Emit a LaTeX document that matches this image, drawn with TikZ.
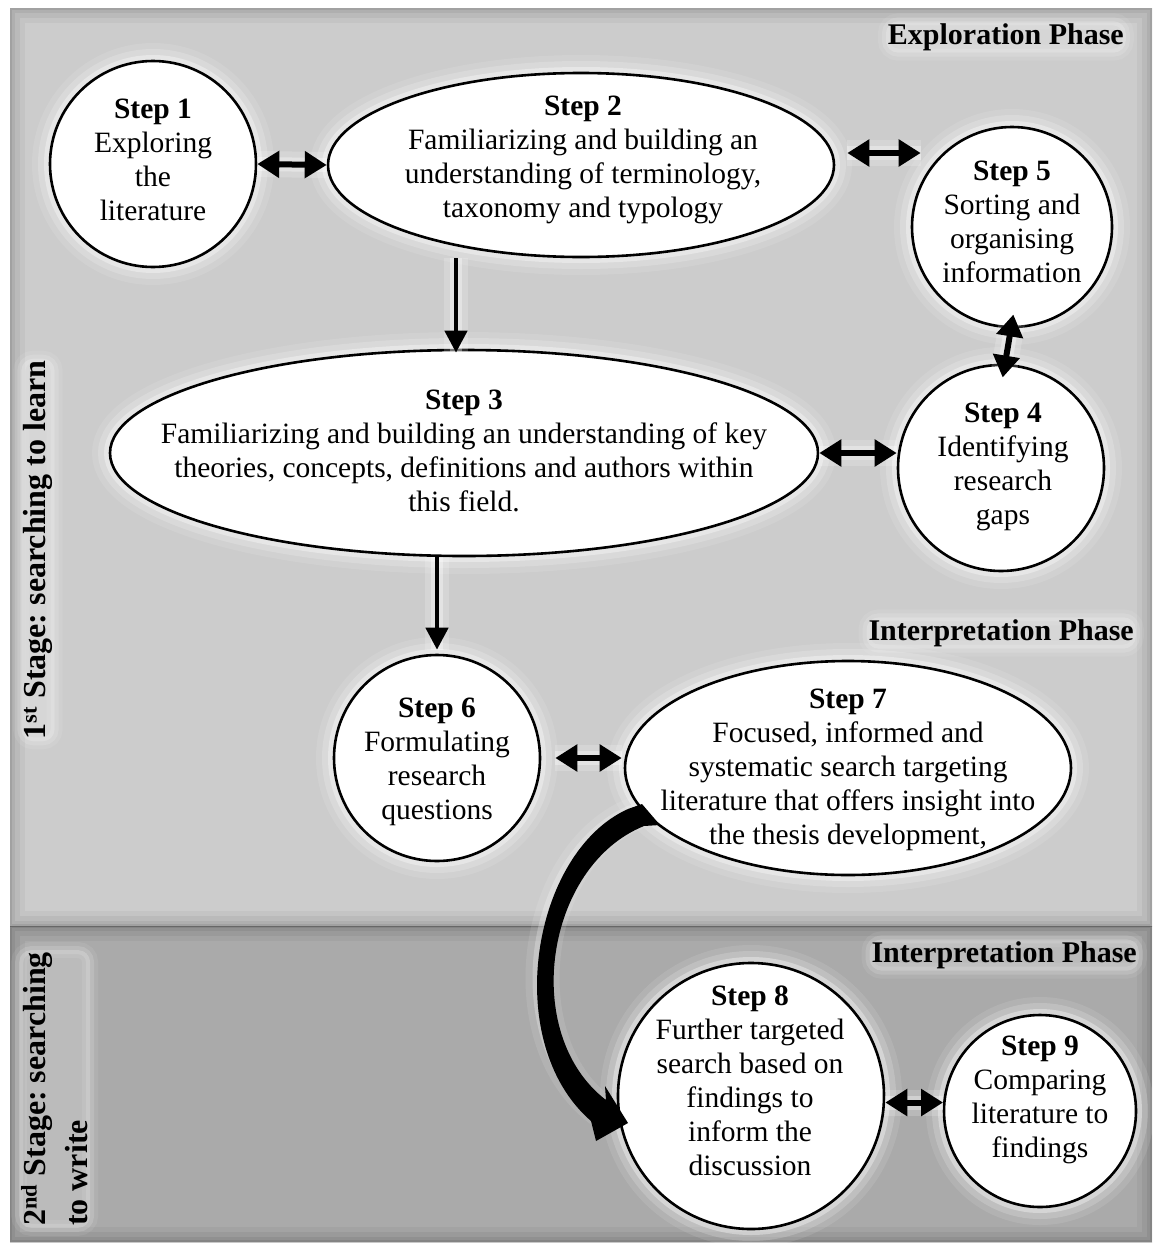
\documentclass[tikz,border=0pt]{standalone}
\usepackage{fontspec}
\setmainfont{Liberation Serif}
\usetikzlibrary{shapes.geometric,arrows.meta}
\frenchspacing

\definecolor{upperbg}{RGB}{204,204,204}
\definecolor{lowerbg}{RGB}{170,170,170}

\tikzset{
  halo/.style={
    preaction={draw=white,line width=36pt,opacity=0.10},
    preaction={draw=white,line width=24pt,opacity=0.18},
    preaction={draw=white,line width=12pt,opacity=0.35}},
  stepshape/.style={draw=black,line width=2.6pt,fill=white,halo,inner sep=0pt},
  stepcircle/.style={stepshape,circle},
  stepellipse/.style={stepshape,ellipse},
  steptext/.style={align=center,font=\fontsize{29.5}{34}\selectfont,text=black,inner sep=0pt},
  twoway/.style={line width=6pt,
    {Triangle[length=22pt,width=26pt]}-{Triangle[length=22pt,width=26pt]},
    preaction={draw=white,line width=26pt,opacity=0.18,-},
    preaction={draw=white,line width=14pt,opacity=0.35,-}},
  oneway/.style={line width=4.5pt,
    -{Triangle[length=22pt,width=22pt]},
    preaction={draw=white,line width=24pt,opacity=0.18,-},
    preaction={draw=white,line width=12pt,opacity=0.35,-}},
  phase/.style={font=\bfseries\fontsize{30}{34}\selectfont,inner sep=2pt,rounded corners=12pt,
    preaction={fill=white,draw=white,line width=16pt,opacity=0.08},
    preaction={fill=white,draw=white,line width=8pt,opacity=0.14}},
  stage/.style={font=\bfseries\fontsize{32}{42}\selectfont,align=left,inner sep=2pt,rounded corners=12pt,rotate=90,
    preaction={fill=white,draw=white,line width=16pt,opacity=0.08},
    preaction={fill=white,draw=white,line width=8pt,opacity=0.14}}
}

\begin{document}
\begin{tikzpicture}[x=1pt,y=-1pt]
\useasboundingbox (0,0) rectangle (1160,1245);
\fill[white] (0,0) rectangle (1160,1245);

% background panels with shaded inner edges
\fill[upperbg] (10,8) rectangle (1152,926);
\fill[lowerbg] (10,926) rectangle (1152,1242);
\begin{scope}
  \clip (10,8) rectangle (1152,926);
  \foreach \w/\o in {30/0.04,20/0.05,10/0.06,4/0.08}
    \draw[black,opacity=\o,line width=\w pt] (10,8) rectangle (1152,926);
\end{scope}
\begin{scope}
  \clip (10,926) rectangle (1152,1242);
  \foreach \w/\o in {30/0.04,20/0.05,10/0.06,4/0.08}
    \draw[black,opacity=\o,line width=\w pt] (10,926) rectangle (1152,1242);
\end{scope}

% soft glow along the curved arrow
\draw[white,line width=34pt,opacity=0.10,line cap=round]
  (632,815) .. controls (532,858) and (508,1040) .. (600,1110);
\draw[white,line width=20pt,opacity=0.25,line cap=round]
  (632,815) .. controls (532,858) and (508,1040) .. (600,1110);

% step shapes
\node[stepcircle,minimum size=206pt] (s1) at (153,164) {};
\node[stepellipse,minimum width=506pt,minimum height=184pt] (s2) at (581,165) {};
\node[stepcircle,minimum size=200pt] (s5) at (1012,227) {};
\node[stepellipse,minimum width=708pt,minimum height=206pt] (s3) at (464,453) {};
\node[stepcircle,minimum size=206pt] (s4) at (1001,468) {};
\node[stepcircle,minimum size=206pt] (s6) at (437,758) {};
\node[stepellipse,minimum width=446pt,minimum height=214pt] (s7) at (848,768) {};
\node[stepcircle,minimum size=266pt] (s8) at (751,1096) {};
\node[stepcircle,minimum size=192pt] (s9) at (1040,1111) {};

% tapered curved arrow from step 7 down onto step 8
\fill[black]
  (642,804) -- (628,809) .. controls (532,852) and (500,1042) .. (591,1121)
  -- (596,1141) -- (628,1123) -- (605,1086) -- (606,1100)
  .. controls (520,1034) and (545,866) .. (644,826) -- (660,825) -- cycle;

% step texts
\node[steptext] (t1) at (153,160) {\textbf{Step 1}\\Exploring\\the\\literature};
\node[steptext] (t2) at (583,160) {\textbf{Step 2}\\Familiarizing and building an\\understanding of terminology,\\taxonomy and typology};
\node[steptext] (t5) at (1012,222) {\textbf{Step 5}\\Sorting and\\organising\\information};
\node[steptext] (t3) at (464,451) {\textbf{Step 3}\\Familiarizing and building an understanding of key\\theories, concepts, definitions and authors within\\this field.};
\node[steptext] (t4) at (1003,467) {\textbf{Step 4}\\Identifying\\research\\gaps};
\node[steptext] (t6) at (437,762) {\textbf{Step 6}\\Formulating\\research\\questions};
\node[steptext] (t7) at (848,770) {\textbf{Step 7}\\Focused, informed and\\systematic search targeting\\literature that offers insight into\\the thesis development,};
\node[steptext] (t8) at (750,1081) {\textbf{Step 8}\\Further targeted\\search based on\\findings to\\inform the\\discussion};
\node[steptext] (t9) at (1040,1100) {\textbf{Step 9}\\Comparing\\literature to\\findings};

% connectors
\draw[twoway] (s1.east) -- (s2.west);
\draw[twoway] ([shift={(12,-12)}]s2.east) -- ([shift={(10,-74)}]s5.west);
\draw[oneway] ([xshift=-125pt]s2.south) -- ([xshift=-8pt,yshift=-4pt]s3.north);
\draw[twoway,shorten <=-14pt,shorten >=-14pt] ([xshift=-1pt]s5.south) -- ([xshift=4pt]s4.north);
\draw[twoway] (s3.east) -- (s3.east -| s4.west);
\draw[oneway] (s3.south -| s6.north) -- ([yshift=4pt]s6.north);
\draw[twoway,shorten <=14pt,shorten >=2pt] (s6.east) -- (s6.east -| s7.west);
\draw[twoway] (s9.175 -| s8.east) -- (s9.175);

% phase and stage labels
\node[phase,anchor=east] (ph1) at (1126,37) {Exploration Phase};
\node[phase,anchor=east] (ph2) at (1136,633) {Interpretation Phase};
\node[phase,anchor=east] (ph3) at (1139,955) {Interpretation Phase};
\node[stage] (st1) at (38,550) {1\textsuperscript{st} Stage: searching to learn};
\node[stage,anchor=north west] (st2) at (19,1228) {2\textsuperscript{nd} Stage: searching\\to write};
\end{tikzpicture}
\end{document}
